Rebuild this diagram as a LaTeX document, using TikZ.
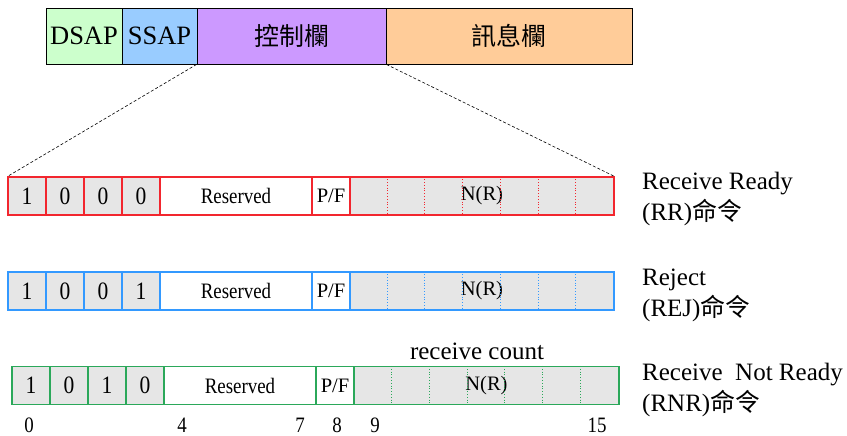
\documentclass[tikz,border=0pt]{standalone}
\usepackage{fontspec}
\setmainfont{Liberation Serif}
\newfontfamily\narrow{Liberation Serif}[FakeStretch=0.86]
\newfontfamily\cjk{Noto Sans CJK TC}
\usetikzlibrary{positioning}

\definecolor{dsapgreen}{HTML}{CCFFCC}
\definecolor{ssapblue}{HTML}{99CCFF}
\definecolor{ctrlpurple}{HTML}{CC99FF}
\definecolor{infoorange}{HTML}{FFCC99}
\definecolor{cellgray}{HTML}{E6E6E6}
\definecolor{rrred}{HTML}{F2262E}
\definecolor{rejblue}{HTML}{3399FF}
\definecolor{rnrgreen}{HTML}{2BA85A}

\begin{document}
\begin{tikzpicture}[x=1pt, y=-1pt,
  hdr/.style={draw=black, line width=0.9pt, minimum height=56pt, inner sep=0pt, font=\fontsize{26.5}{30}\selectfont},
  bit/.style={draw=#1, line width=1.1pt, fill=cellgray, minimum height=38pt, minimum width=38pt, inner sep=0pt, font=\narrow\fontsize{25}{28}\selectfont},
  resv/.style={bit=#1, fill=white, minimum width=152pt, font=\narrow\fontsize{22}{26}\selectfont},
  pfbit/.style={bit=#1, fill=white, font=\fontsize{20.5}{24}\selectfont},
  nrfield/.style={bit=#1, minimum width=264pt, font=\fontsize{20.5}{24}\selectfont},
  cmdlabel/.style={anchor=west, align=left, inner sep=0pt, font=\fontsize{25}{31}\selectfont},
  bitno/.style={inner sep=0pt, font=\narrow\fontsize{22}{26}\selectfont}]
\useasboundingbox (0,0) rectangle (847,436);

% LLC frame
\node[hdr, fill=dsapgreen, minimum width=76pt] (dsap) at (84,36) {DSAP};
\node[hdr, fill=ssapblue, minimum width=75pt] (ssap) at (159.5,36) {SSAP};
\node[hdr, fill=ctrlpurple, minimum width=189pt] (ctrl) at (291.5,36) {\cjk\fontsize{25}{30}\selectfont 控制欄};
\node[hdr, fill=infoorange, minimum width=246pt] (info) at (509,36) {\cjk\fontsize{25}{30}\selectfont 訊息欄};

% RR
\node[bit=rrred] (rra) at (27,196) {1};
\node[bit=rrred] (rrb) at (65,196) {0};
\node[bit=rrred] (rrc) at (103,196) {0};
\node[bit=rrred] (rrd) at (141,196) {0};
\node[resv=rrred] (rrres) at (236,196) {Reserved};
\node[pfbit=rrred] (rrpf) at (331,196) {P/F};
\node[nrfield=rrred] (rrnr) at (482,196) {N(R)};
\foreach \i in {1,...,6}
  \draw[rrred, dotted, line width=0.8pt] ([xshift=\i*37.714pt]rrnr.north west) -- ([xshift=\i*37.714pt]rrnr.south west);
\node[cmdlabel] (rrname) at (642,199) {Receive Ready\\(RR){\cjk 命令}};

\draw[densely dashed, line width=0.6pt] (ctrl.south west) -- (rra.north west);
\draw[densely dashed, line width=0.6pt] (ctrl.south east) -- (rrnr.north east);

% REJ
\node[bit=rejblue] (reja) at (27,291) {1};
\node[bit=rejblue] (rejb) at (65,291) {0};
\node[bit=rejblue] (rejc) at (103,291) {0};
\node[bit=rejblue] (rejd) at (141,291) {1};
\node[resv=rejblue] (rejres) at (236,291) {Reserved};
\node[pfbit=rejblue] (rejpf) at (331,291) {P/F};
\node[nrfield=rejblue] (rejnr) at (482,291) {N(R)};
\foreach \i in {1,...,6}
  \draw[rejblue, dotted, line width=0.8pt] ([xshift=\i*37.714pt]rejnr.north west) -- ([xshift=\i*37.714pt]rejnr.south west);
\node[cmdlabel] (rejname) at (642,295) {Reject\\(REJ){\cjk 命令}};

% RNR
\node[bit=rnrgreen] (rnra) at (31,385.5) {1};
\node[bit=rnrgreen] (rnrb) at (69,385.5) {0};
\node[bit=rnrgreen] (rnrc) at (107,385.5) {1};
\node[bit=rnrgreen] (rnrd) at (145,385.5) {0};
\node[resv=rnrgreen] (rnrres) at (240,385.5) {Reserved};
\node[pfbit=rnrgreen] (rnrpf) at (335,385.5) {P/F};
\node[nrfield=rnrgreen, minimum width=265pt] (rnrnr) at (486.5,385.5) {N(R)};
\foreach \i in {1,...,6}
  \draw[rnrgreen, dotted, line width=0.8pt] ([xshift=\i*37.857pt]rnrnr.north west) -- ([xshift=\i*37.857pt]rnrnr.south west);
\node[cmdlabel] (rnrname) at (642,390) {Receive~ Not Ready\\(RNR){\cjk 命令}};
\node[inner sep=0pt, font=\fontsize{25}{29}\selectfont] (count) at (477,351) {receive count};

% bit numbers
\node[bitno] (n0) at (29,425) {0};
\node[bitno] (n4) at (182,425) {4};
\node[bitno] (n7) at (300,425) {7};
\node[bitno] (n8) at (337,425) {8};
\node[bitno] (n9) at (375,425) {9};
\node[bitno] (n15) at (597,425) {15};
\end{tikzpicture}
\end{document}
